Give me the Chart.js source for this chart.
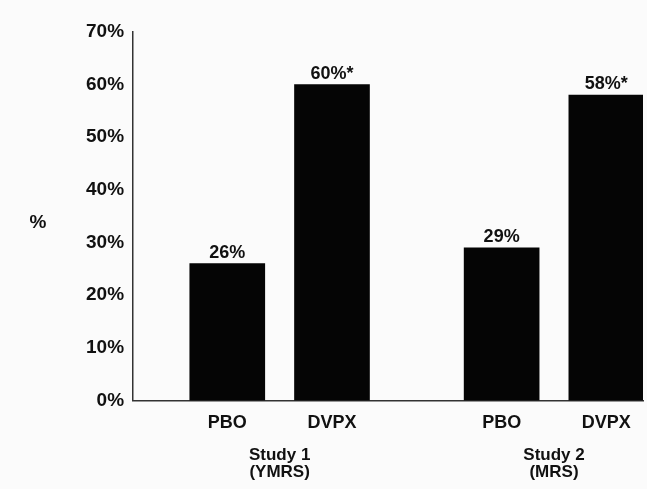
<!DOCTYPE html>
<html>
<head>
<meta charset="utf-8">
<script src="https://cdn.jsdelivr.net/npm/chart.js@4.4.1/dist/chart.umd.min.js"></script>
<style>
    body { margin: 0; background: #fbfbfb; }
    #wrap { width: 647px; height: 489px; }
</style>
</head>
<body>
<div id="wrap"><canvas id="responseChart"></canvas></div>
<script>
// Data
const studies = [["Study 1", "(YMRS)"], ["Study 2", "(MRS)"]];
const treatments = ["PBO", "DVPX"];
const responseRates = [26, 60, 29, 58];
const valueLabels = ["26%", "60%*", "29%", "58%*"];
const yTicks = [0, 10, 20, 30, 40, 50, 60, 70];

// x layout: one unit between bars in a study, extra gap between studies
const groupGap = 0.62;
const barX = [];
const barNames = [];
studies.forEach((s, g) => {
    treatments.forEach((t, b) => {
        barX.push(1 + g * (treatments.length + groupGap) + b);
        barNames.push(t);
    });
});
const studyX = studies.map((s, g) => 1 + g * (treatments.length + groupGap) + (treatments.length - 1) / 2);

const fontFamily = "'Liberation Sans', Arial, sans-serif";

// labels over the bars and the horizontal "%" title
const barLabels = {
    id: "barLabels",
    afterDatasetsDraw(chart) {
        const ctx = chart.ctx;
        const meta = chart.getDatasetMeta(0);
        ctx.save();
        ctx.fillStyle = "#111";
        ctx.font = "bold 18px " + fontFamily;
        ctx.textAlign = "center";
        ctx.textBaseline = "alphabetic";
        meta.data.forEach((bar, i) => {
            ctx.fillText(valueLabels[i], bar.x, bar.y - 6);
        });
        const area = chart.chartArea;
        ctx.font = "bold 19px " + fontFamily;
        ctx.textBaseline = "middle";
        ctx.fillText("%", area.left - 95, (area.top + area.bottom) / 2 + 7);
        ctx.restore();
    }
};

const ctx = document.getElementById("responseChart").getContext("2d");
new Chart(ctx, {
    type: "bar",
    data: {
        datasets: [
            {
                data: responseRates.map((v, i) => ({ x: barX[i], y: v })),
                backgroundColor: "#050505",
                barThickness: 75
            }
        ]
    },
    options: {
        responsive: true,
        maintainAspectRatio: false,
        animation: false,
        layout: {
            padding: { left: 77, top: 32, right: 4, bottom: 7 }
        },
        plugins: {
            legend: { display: false },
            tooltip: { enabled: false }
        },
        scales: {
            x: {
                type: "linear",
                offset: false,
                min: 0.1,
                max: 4.97,
                grid: { display: false, drawTicks: false },
                border: { display: true, color: "#333", width: 1.5 },
                afterBuildTicks: (axis) => {
                    axis.ticks = barX.map(v => ({ value: v }));
                },
                ticks: {
                    autoSkip: false,
                    maxRotation: 0,
                    padding: 12,
                    color: "#111",
                    font: { family: fontFamily, size: 18, weight: "bold" },
                    callback: (value) => barNames[barX.indexOf(value)]
                }
            },
            x2: {
                type: "linear",
                position: "bottom",
                offset: false,
                min: 0.1,
                max: 4.97,
                grid: { display: false, drawTicks: false },
                border: { display: false },
                afterBuildTicks: (axis) => {
                    axis.ticks = studyX.map(v => ({ value: v }));
                },
                ticks: {
                    autoSkip: false,
                    maxRotation: 0,
                    padding: 1,
                    color: "#111",
                    font: { family: fontFamily, size: 17, weight: "bold", lineHeight: 1.0 },
                    callback: (value) => studies[studyX.indexOf(value)]
                }
            },
            y: {
                min: 0,
                max: 70,
                grid: { display: false, drawTicks: false },
                border: { display: true, color: "#333", width: 1.5 },
                afterBuildTicks: (axis) => {
                    axis.ticks = yTicks.map(v => ({ value: v }));
                },
                ticks: {
                    padding: 9,
                    color: "#111",
                    font: { family: fontFamily, size: 19, weight: "bold" },
                    callback: (value) => value + "%"
                }
            }
        }
    },
    plugins: [barLabels]
});
</script>
</body>
</html>
